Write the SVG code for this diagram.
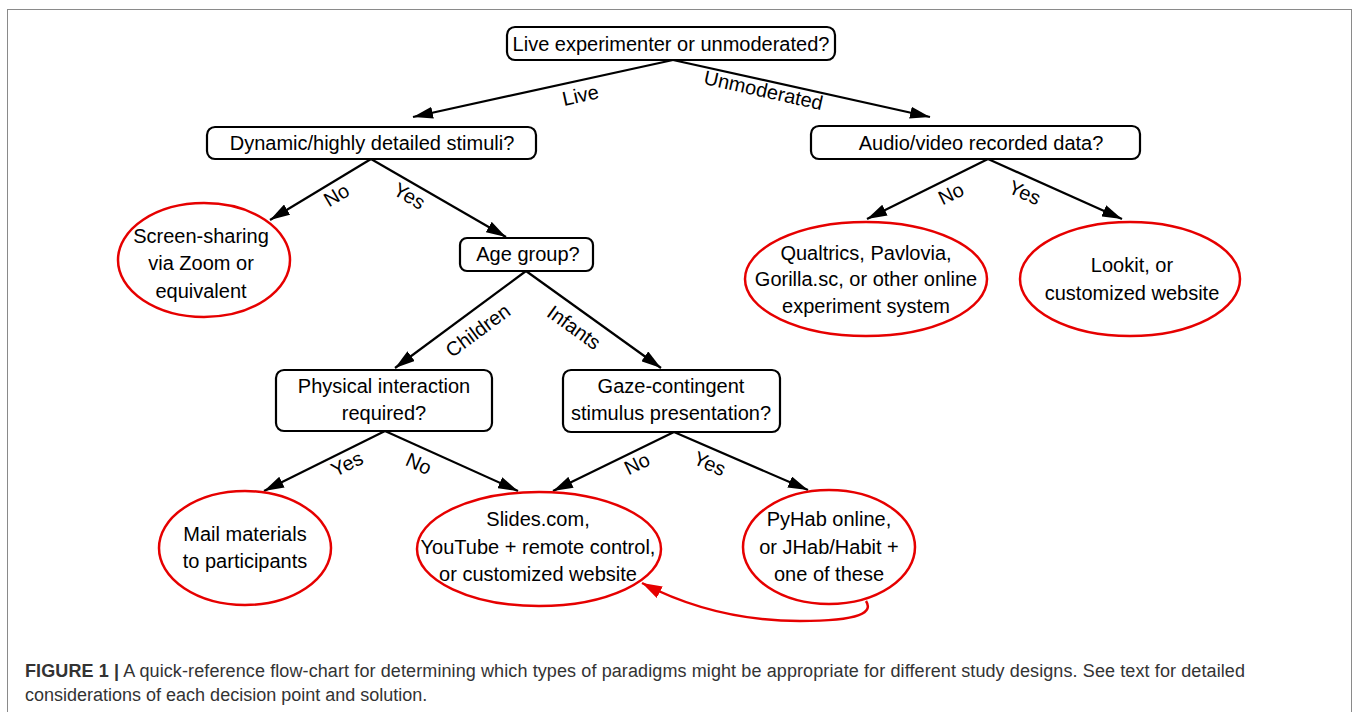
<svg xmlns="http://www.w3.org/2000/svg" width="1358" height="712" viewBox="0 0 1358 712">
<style>
.box{fill:#fff;stroke:#000;stroke-width:2.2}
.ell{fill:#fff;stroke:#e60000;stroke-width:2.5}
.t{font-family:"Liberation Sans",Arial,sans-serif;font-size:20px;fill:#000;text-anchor:middle}
.lbl{font-family:"Liberation Sans",Arial,sans-serif;font-size:20px;fill:#000;text-anchor:middle}
.edge{stroke:#000;stroke-width:2.2;fill:none;marker-end:url(#ah)}
.red{stroke:#e60000;stroke-width:2.5;fill:none;marker-end:url(#ahr)}
.cap{font-family:"Liberation Sans",Arial,sans-serif;font-size:18px;fill:#333}
</style>
<defs>
<marker id="ah" markerUnits="userSpaceOnUse" markerWidth="20" markerHeight="12" refX="20" refY="6" orient="auto"><path d="M0,0 L20,6 L0,12 z" fill="#000"/></marker>
<marker id="ahr" markerUnits="userSpaceOnUse" markerWidth="20" markerHeight="13" refX="20" refY="6.5" orient="auto"><path d="M0,0 L20,6.5 L0,13 z" fill="#e60000"/></marker>
</defs>
<rect x="0" y="0" width="1358" height="712" fill="#fff"/>
<rect x="7.5" y="9.5" width="1344" height="740" fill="none" stroke="#8a8a8a" stroke-width="1"/>

<g id="connectors">
<line class="edge" x1="673" y1="60" x2="413" y2="117"/>
<line class="edge" x1="673" y1="60" x2="930" y2="117"/>
<line class="edge" x1="371" y1="159" x2="270" y2="220"/>
<line class="edge" x1="371" y1="159" x2="506" y2="237"/>
<line class="edge" x1="988" y1="159" x2="867" y2="219"/>
<line class="edge" x1="988" y1="159" x2="1122" y2="219"/>
<line class="edge" x1="526" y1="271" x2="395" y2="368"/>
<line class="edge" x1="526" y1="271" x2="661" y2="368"/>
<line class="edge" x1="385" y1="431" x2="264" y2="491"/>
<line class="edge" x1="385" y1="431" x2="518" y2="491"/>
<line class="edge" x1="674" y1="432" x2="553" y2="491"/>
<line class="edge" x1="674" y1="432" x2="808" y2="490"/>
<path class="red" d="M866,601 C873,612 862,621 800,621 C740,621 690,608 642,583"/>
<g id="edge-labels">
<text class="lbl" transform="translate(582,102) rotate(-12.4)">Live</text>
<text class="lbl" transform="translate(762,97) rotate(12.6)">Unmoderated</text>
<text class="lbl" transform="translate(340,201) rotate(-31)">No</text>
<text class="lbl" transform="translate(406,202) rotate(30)">Yes</text>
<text class="lbl" transform="translate(954,200) rotate(-26)">No</text>
<text class="lbl" transform="translate(1022,199) rotate(24)">Yes</text>
<text class="lbl" transform="translate(482,336) rotate(-36.5)">Children</text>
<text class="lbl" transform="translate(570,333) rotate(35.7)">Infants</text>
<text class="lbl" transform="translate(350,470) rotate(-26)">Yes</text>
<text class="lbl" transform="translate(416,470) rotate(24)">No</text>
<text class="lbl" transform="translate(640,470) rotate(-26)">No</text>
<text class="lbl" transform="translate(707,470) rotate(24)">Yes</text>
</g>
</g>

<g id="n-live">
<rect class="box" x="507" y="27" width="328" height="33" rx="8"/>
<text class="t" x="671" y="51">Live experimenter or unmoderated?</text>
</g>
<g id="n-dynamic">
<rect class="box" x="207" y="127" width="329" height="32" rx="8"/>
<text class="t" x="372" y="150">Dynamic/highly detailed stimuli?</text>
</g>
<g id="n-audio">
<rect class="box" x="811" y="126" width="329" height="33" rx="8"/>
<text class="t" x="981" y="150">Audio/video recorded data?</text>
</g>
<g id="n-screen">
<ellipse class="ell" cx="204" cy="260" rx="86" ry="57"/>
<text class="t" x="201" y="243">Screen-sharing</text>
<text class="t" x="201" y="270">via Zoom or</text>
<text class="t" x="201" y="298">equivalent</text>
</g>
<g id="n-age">
<rect class="box" x="460" y="238" width="133" height="33" rx="7"/>
<text class="t" x="528" y="261">Age group?</text>
</g>
<g id="n-qualtrics">
<ellipse class="ell" cx="866" cy="279" rx="121" ry="57"/>
<text class="t" x="866" y="260">Qualtrics, Pavlovia,</text>
<text class="t" x="866" y="286">Gorilla.sc, or other online</text>
<text class="t" x="866" y="313">experiment system</text>
</g>
<g id="n-lookit">
<ellipse class="ell" cx="1130" cy="279" rx="110" ry="57"/>
<text class="t" x="1132" y="272">Lookit, or</text>
<text class="t" x="1132" y="300">customized website</text>
</g>
<g id="n-physical">
<rect class="box" x="276" y="370" width="216" height="61" rx="8"/>
<text class="t" x="384" y="393">Physical interaction</text>
<text class="t" x="384" y="420">required?</text>
</g>
<g id="n-gaze">
<rect class="box" x="563" y="370" width="217" height="62" rx="8"/>
<text class="t" x="671" y="393">Gaze-contingent</text>
<text class="t" x="671" y="420">stimulus presentation?</text>
</g>
<g id="n-mail">
<ellipse class="ell" cx="245" cy="548" rx="86" ry="57"/>
<text class="t" x="245" y="541">Mail materials</text>
<text class="t" x="245" y="568">to participants</text>
</g>
<g id="n-slides">
<ellipse class="ell" cx="539" cy="549" rx="122" ry="57"/>
<text class="t" x="538" y="526">Slides.com,</text>
<text class="t" x="538" y="554">YouTube + remote control,</text>
<text class="t" x="538" y="581">or customized website</text>
</g>
<g id="n-pyhab">
<ellipse class="ell" cx="829" cy="547" rx="86" ry="57"/>
<text class="t" x="829" y="526">PyHab online,</text>
<text class="t" x="829" y="554">or JHab/Habit +</text>
<text class="t" x="829" y="581">one of these</text>
</g>

<g id="caption">
<text class="cap" x="25" y="677" textLength="1220" lengthAdjust="spacing"><tspan font-weight="bold">FIGURE 1 |</tspan> A quick-reference flow-chart for determining which types of paradigms might be appropriate for different study designs. See text for detailed</text>
<text class="cap" x="25" y="701">considerations of each decision point and solution.</text>
</g>
</svg>
